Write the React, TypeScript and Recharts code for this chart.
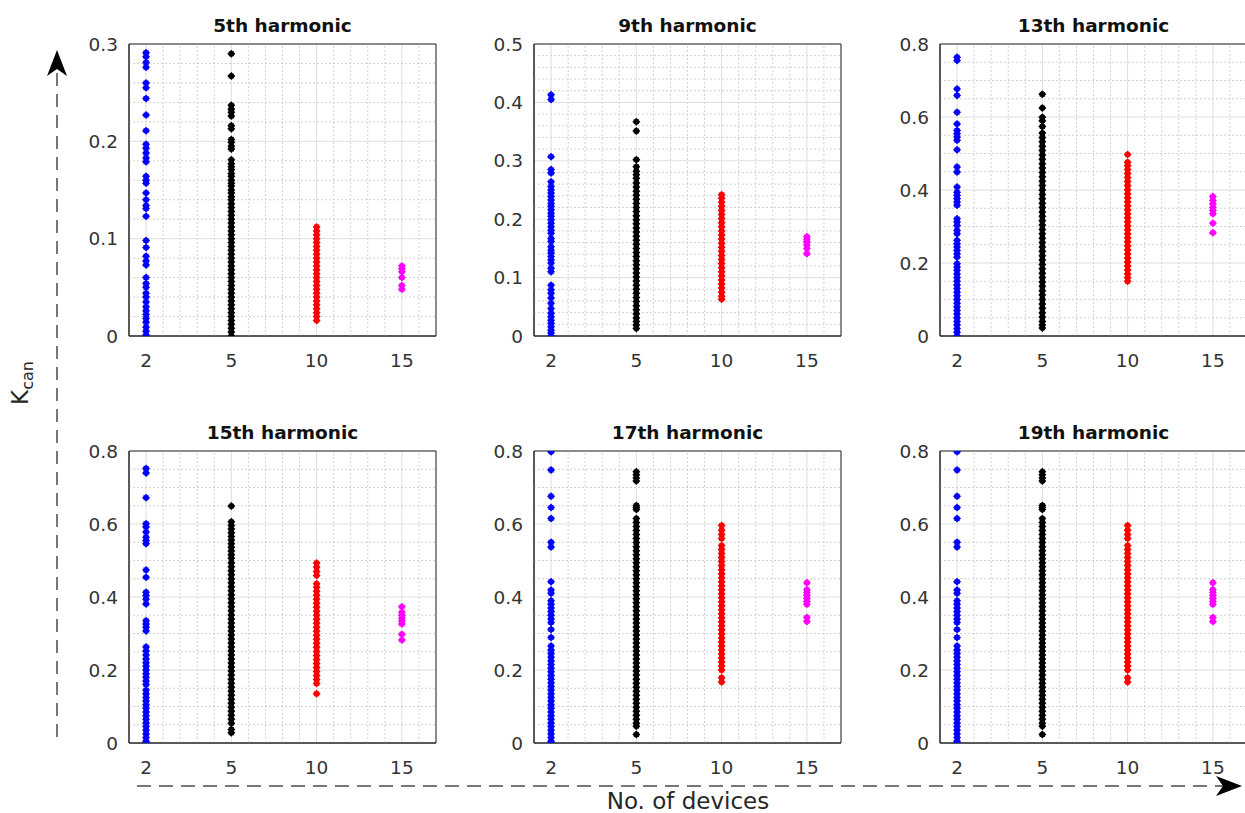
import React from "react";
import {
  ScatterChart,
  Scatter,
  XAxis,
  YAxis,
  CartesianGrid,
  ReferenceLine,
  ReferenceArea,
} from "recharts";

// devices on the x axis (plotted at equal spacing, index 1..4)
const deviceLabels = ["2", "5", "10", "15"];
const devicePos = [1, 2, 3, 4];

// 5th harmonic
const h5Blue = [0.291, 0.287, 0.281, 0.276, 0.260, 0.255, 0.244, 0.227, 0.211, 0.197, 0.193, 0.188, 0.183, 0.179, 0.164, 0.160, 0.157, 0.147, 0.140, 0.134, 0.131, 0.123, 0.098, 0.091, 0.082, 0.077, 0.073, 0.060, 0.054, 0.050, 0.044, 0.040, 0.035, 0.030, 0.026, 0.022, 0.018, 0.014, 0.009, 0.005, 0.001];
const h5Black = [0.290, 0.267, 0.237, 0.233, 0.230, 0.226, 0.216, 0.213, 0.202, 0.199, 0.195, 0.192, 0.181, 0.177, 0.174, 0.171, 0.167, 0.164, 0.160, 0.157, 0.154, 0.150, 0.147, 0.143, 0.140, 0.136, 0.132, 0.128, 0.124, 0.120, 0.116, 0.112, 0.108, 0.104, 0.100, 0.096, 0.092, 0.088, 0.084, 0.080, 0.076, 0.072, 0.068, 0.064, 0.060, 0.056, 0.052, 0.048, 0.044, 0.040, 0.036, 0.032, 0.028, 0.024, 0.020, 0.016, 0.012, 0.008, 0.004, 0.000];
const h5Red = [0.112, 0.108, 0.104, 0.100, 0.096, 0.092, 0.088, 0.084, 0.080, 0.076, 0.072, 0.068, 0.064, 0.060, 0.056, 0.052, 0.048, 0.044, 0.040, 0.036, 0.032, 0.028, 0.024, 0.020, 0.016];
const h5Magenta = [0.072, 0.069, 0.066, 0.060, 0.052, 0.048];

// 9th harmonic
const h9Blue = [0.413, 0.405, 0.307, 0.285, 0.279, 0.264, 0.256, 0.250, 0.245, 0.239, 0.233, 0.227, 0.222, 0.216, 0.210, 0.205, 0.199, 0.193, 0.187, 0.181, 0.176, 0.167, 0.162, 0.153, 0.147, 0.142, 0.136, 0.130, 0.125, 0.116, 0.110, 0.087, 0.079, 0.073, 0.065, 0.056, 0.047, 0.039, 0.033, 0.027, 0.022, 0.016, 0.010, 0.005, 0.000];
const h9Black = [0.367, 0.351, 0.302, 0.290, 0.282, 0.276, 0.270, 0.262, 0.255, 0.248, 0.241, 0.234, 0.227, 0.220, 0.213, 0.206, 0.199, 0.192, 0.185, 0.178, 0.171, 0.164, 0.157, 0.150, 0.143, 0.136, 0.129, 0.122, 0.115, 0.108, 0.101, 0.094, 0.087, 0.080, 0.073, 0.066, 0.059, 0.052, 0.045, 0.038, 0.031, 0.025, 0.019, 0.013];
const h9Red = [0.242, 0.236, 0.229, 0.222, 0.215, 0.208, 0.201, 0.194, 0.187, 0.180, 0.173, 0.166, 0.159, 0.152, 0.145, 0.138, 0.131, 0.124, 0.117, 0.110, 0.103, 0.096, 0.089, 0.082, 0.075, 0.068, 0.063];
const h9Magenta = [0.170, 0.165, 0.161, 0.156, 0.150, 0.141];

// 13th harmonic
const h13Blue = [0.764, 0.755, 0.677, 0.659, 0.613, 0.581, 0.563, 0.554, 0.545, 0.536, 0.510, 0.463, 0.449, 0.408, 0.394, 0.385, 0.376, 0.367, 0.358, 0.321, 0.312, 0.303, 0.289, 0.280, 0.262, 0.253, 0.244, 0.234, 0.225, 0.216, 0.198, 0.189, 0.180, 0.170, 0.160, 0.150, 0.140, 0.130, 0.120, 0.110, 0.100, 0.090, 0.080, 0.070, 0.060, 0.050, 0.040, 0.030, 0.020, 0.010, 0.000];
const h13Black = [0.662, 0.625, 0.599, 0.590, 0.574, 0.556, 0.544, 0.532, 0.520, 0.508, 0.496, 0.484, 0.472, 0.460, 0.448, 0.436, 0.424, 0.412, 0.400, 0.388, 0.376, 0.364, 0.352, 0.340, 0.328, 0.316, 0.304, 0.292, 0.280, 0.268, 0.256, 0.244, 0.232, 0.220, 0.208, 0.196, 0.184, 0.172, 0.160, 0.148, 0.136, 0.124, 0.112, 0.100, 0.088, 0.076, 0.064, 0.052, 0.040, 0.030, 0.022];
const h13Red = [0.497, 0.476, 0.467, 0.456, 0.445, 0.434, 0.423, 0.412, 0.401, 0.390, 0.379, 0.368, 0.357, 0.346, 0.335, 0.324, 0.313, 0.302, 0.291, 0.280, 0.269, 0.258, 0.247, 0.236, 0.225, 0.214, 0.203, 0.192, 0.181, 0.170, 0.160, 0.150];
const h13Magenta = [0.382, 0.371, 0.362, 0.353, 0.344, 0.335, 0.309, 0.283];

// 15th harmonic
const h15Blue = [0.752, 0.740, 0.672, 0.601, 0.592, 0.578, 0.564, 0.555, 0.546, 0.474, 0.454, 0.413, 0.404, 0.394, 0.381, 0.335, 0.326, 0.317, 0.307, 0.263, 0.252, 0.241, 0.230, 0.220, 0.210, 0.200, 0.190, 0.180, 0.170, 0.160, 0.145, 0.135, 0.125, 0.115, 0.105, 0.095, 0.085, 0.075, 0.065, 0.055, 0.045, 0.035, 0.025, 0.015, 0.005, 0.000];
const h15Black = [0.649, 0.606, 0.596, 0.586, 0.576, 0.566, 0.556, 0.546, 0.536, 0.526, 0.516, 0.506, 0.494, 0.483, 0.472, 0.461, 0.450, 0.439, 0.428, 0.417, 0.406, 0.395, 0.384, 0.373, 0.362, 0.351, 0.340, 0.329, 0.318, 0.307, 0.296, 0.285, 0.274, 0.263, 0.252, 0.241, 0.230, 0.219, 0.208, 0.197, 0.186, 0.175, 0.164, 0.153, 0.142, 0.131, 0.120, 0.109, 0.098, 0.087, 0.076, 0.065, 0.054, 0.037, 0.028];
const h15Red = [0.493, 0.482, 0.470, 0.459, 0.436, 0.427, 0.416, 0.405, 0.394, 0.383, 0.372, 0.361, 0.350, 0.339, 0.328, 0.317, 0.306, 0.295, 0.284, 0.273, 0.262, 0.251, 0.240, 0.229, 0.218, 0.207, 0.196, 0.185, 0.174, 0.163, 0.135];
const h15Magenta = [0.373, 0.358, 0.350, 0.342, 0.334, 0.326, 0.298, 0.282];

// 17th harmonic
const h17Blue = [0.798, 0.748, 0.676, 0.645, 0.615, 0.550, 0.537, 0.442, 0.419, 0.410, 0.390, 0.380, 0.370, 0.360, 0.350, 0.340, 0.330, 0.311, 0.289, 0.266, 0.255, 0.245, 0.235, 0.225, 0.215, 0.205, 0.195, 0.185, 0.175, 0.165, 0.155, 0.145, 0.135, 0.125, 0.115, 0.105, 0.095, 0.085, 0.075, 0.065, 0.055, 0.045, 0.035, 0.025, 0.015, 0.005, 0.000];
const h17Black = [0.743, 0.735, 0.726, 0.718, 0.651, 0.645, 0.640, 0.615, 0.604, 0.593, 0.582, 0.571, 0.560, 0.549, 0.538, 0.527, 0.516, 0.505, 0.494, 0.483, 0.472, 0.461, 0.450, 0.439, 0.428, 0.417, 0.406, 0.395, 0.384, 0.373, 0.362, 0.351, 0.340, 0.329, 0.318, 0.307, 0.296, 0.285, 0.274, 0.263, 0.252, 0.241, 0.230, 0.219, 0.208, 0.197, 0.186, 0.175, 0.164, 0.153, 0.142, 0.131, 0.120, 0.109, 0.098, 0.087, 0.076, 0.065, 0.054, 0.046, 0.023];
const h17Red = [0.596, 0.583, 0.571, 0.560, 0.541, 0.530, 0.519, 0.508, 0.497, 0.486, 0.475, 0.464, 0.453, 0.442, 0.431, 0.420, 0.409, 0.398, 0.387, 0.376, 0.365, 0.354, 0.343, 0.332, 0.321, 0.310, 0.299, 0.288, 0.277, 0.266, 0.255, 0.244, 0.233, 0.222, 0.211, 0.200, 0.179, 0.167];
const h17Magenta = [0.439, 0.420, 0.412, 0.404, 0.396, 0.388, 0.380, 0.344, 0.333];

// 19th harmonic (reads the same as the 17th in the figure)
const h19Blue = h17Blue;
const h19Black = h17Black;
const h19Red = h17Red;
const h19Magenta = h17Magenta;

// y tick labels
const yTicks03 = [0, 0.1, 0.2, 0.3];
const yTicks05 = [0, 0.1, 0.2, 0.3, 0.4, 0.5];
const yTicks08 = [0, 0.2, 0.4, 0.6, 0.8];

const seriesColors = ["#0000ff", "#000000", "#ff0000", "#ff00ff"];

const PLOT_W = 307;
const PLOT_H = 292;
const Y_AXIS_W = 60;
const X_AXIS_H = 40;
const M_TOP = 10;
const M_RIGHT = 10;
const FONT = "'DejaVu Sans', sans-serif";

const panels = [
  { title: "5th harmonic", left: 129, top: 44, yMax: 0.3, yTicks: yTicks03, minor: 0.02, series: [h5Blue, h5Black, h5Red, h5Magenta] },
  { title: "9th harmonic", left: 534, top: 44, yMax: 0.5, yTicks: yTicks05, minor: 0.02, series: [h9Blue, h9Black, h9Red, h9Magenta] },
  { title: "13th harmonic", left: 940, top: 44, yMax: 0.8, yTicks: yTicks08, minor: 0.05, series: [h13Blue, h13Black, h13Red, h13Magenta] },
  { title: "15th harmonic", left: 129, top: 451, yMax: 0.8, yTicks: yTicks08, minor: 0.05, series: [h15Blue, h15Black, h15Red, h15Magenta] },
  { title: "17th harmonic", left: 534, top: 451, yMax: 0.8, yTicks: yTicks08, minor: 0.05, series: [h17Blue, h17Black, h17Red, h17Magenta] },
  { title: "19th harmonic", left: 940, top: 451, yMax: 0.8, yTicks: yTicks08, minor: 0.05, series: [h19Blue, h19Black, h19Red, h19Magenta] },
];

const X_MIN = 0.8;
const X_MAX = 4.4;

const steps = (from: number, to: number, step: number) => {
  const out: number[] = [];
  for (let i = 1; from + i * step < to - 1e-9; i++) out.push(+(from + i * step).toFixed(4));
  return out;
};

// diamond with a small square core, so stacked points merge into a solid column
const marker = (color: string) => (props: any) => {
  const { cx, cy } = props;
  if (cx == null || cy == null) return <g />;
  return (
    <path
      d={`M${cx},${cy - 4}L${cx + 4},${cy}L${cx},${cy + 4}L${cx - 4},${cy}Z M${cx - 2.6},${cy - 2.4}h5.2v4.8h-5.2Z`}
      fill={color}
    />
  );
};

const tickStyle = { fill: "#333333", fontSize: 18.5, fontFamily: FONT };

function Panel({ p }: { p: (typeof panels)[number] }) {
  const xMinor = steps(X_MIN, X_MAX, 0.2).filter((v) => !devicePos.includes(Math.round(v * 10) / 10));
  const majorSet = p.yTicks.map((v) => Math.round(v * 1000));
  const yMinor = steps(0, p.yMax, p.minor).filter((v) => !majorSet.includes(Math.round(v * 1000)));
  return (
    <>
      <div
        style={{
          position: "absolute",
          left: p.left,
          top: p.top - 29,
          width: PLOT_W,
          textAlign: "center",
          fontFamily: FONT,
          fontWeight: "bold",
          fontSize: 18.5,
          lineHeight: "22px",
          color: "#111",
        }}
      >
        {p.title}
      </div>
      <div style={{ position: "absolute", left: p.left - Y_AXIS_W, top: p.top - M_TOP }}>
        <ScatterChart
          width={Y_AXIS_W + PLOT_W + M_RIGHT}
          height={M_TOP + PLOT_H + X_AXIS_H}
          margin={{ top: M_TOP, right: M_RIGHT, bottom: 0, left: 0 }}
        >
          <CartesianGrid stroke="#dedede" strokeWidth={1} />
          {xMinor.map((v) => (
            <ReferenceLine key={`vx${v}`} x={v} stroke="#d2d2d2" strokeDasharray="2 2" />
          ))}
          {yMinor.map((v) => (
            <ReferenceLine key={`hy${v}`} y={v} stroke="#d2d2d2" strokeDasharray="2 2" />
          ))}
          <XAxis
            dataKey="x"
            type="number"
            domain={[X_MIN, X_MAX]}
            ticks={devicePos}
            tickFormatter={(v: number) => deviceLabels[v - 1]}
            allowDataOverflow
            height={X_AXIS_H}
            tickLine={false}
            tickMargin={12}
            axisLine={{ stroke: "#262626" }}
            tick={tickStyle}
            interval={0}
          />
          <YAxis
            dataKey="y"
            type="number"
            domain={[0, p.yMax]}
            ticks={p.yTicks}
            allowDataOverflow
            width={Y_AXIS_W}
            tickLine={false}
            tickMargin={5}
            axisLine={{ stroke: "#262626" }}
            tick={tickStyle}
            interval={0}
          />
          <ReferenceArea
            x1={X_MIN}
            x2={X_MAX}
            y1={0}
            y2={p.yMax}
            fill="none"
            fillOpacity={0}
            stroke="#262626"
            strokeWidth={1}
            strokeOpacity={1}
          />
          {p.series.map((vals, i) => (
            <Scatter
              key={i}
              data={vals.map((y) => ({ x: devicePos[i], y }))}
              shape={marker(seriesColors[i])}
              isAnimationActive={false}
            />
          ))}
        </ScatterChart>
      </div>
    </>
  );
}

export default function App() {
  return (
    <div
      style={{
        position: "absolute",
        left: 0,
        top: 0,
        width: 1245,
        height: 813,
        overflow: "hidden",
        background: "#ffffff",
        fontFamily: FONT,
      }}
    >
      {panels.map((p) => (
        <Panel key={p.title} p={p} />
      ))}

      <svg
        width={1245}
        height={813}
        style={{ position: "absolute", left: 0, top: 0, pointerEvents: "none" }}
      >
        <line x1={57} y1={737} x2={57} y2={70} stroke="#777777" strokeWidth={2} strokeDasharray="13 8" />
        <path d="M57,50 L67,76 L57,69 L47,76 Z" fill="#000000" />
        <line x1={137} y1={786} x2={1224} y2={786} stroke="#777777" strokeWidth={2} strokeDasharray="14 8" />
        <path d="M1242,786 L1216,776 L1223,786 L1216,796 Z" fill="#000000" />
      </svg>

      <div
        style={{
          position: "absolute",
          left: 22,
          top: 383,
          transform: "translate(-50%, -50%) rotate(-90deg)",
          fontFamily: FONT,
          fontSize: 23,
          color: "#262626",
          whiteSpace: "nowrap",
        }}
      >
        K<sub style={{ fontSize: 16 }}>can</sub>
      </div>

      <div
        style={{
          position: "absolute",
          left: 438,
          width: 500,
          top: 788,
          textAlign: "center",
          fontFamily: FONT,
          fontSize: 23,
          lineHeight: "26px",
          color: "#262626",
        }}
      >
        No. of devices
      </div>
    </div>
  );
}
